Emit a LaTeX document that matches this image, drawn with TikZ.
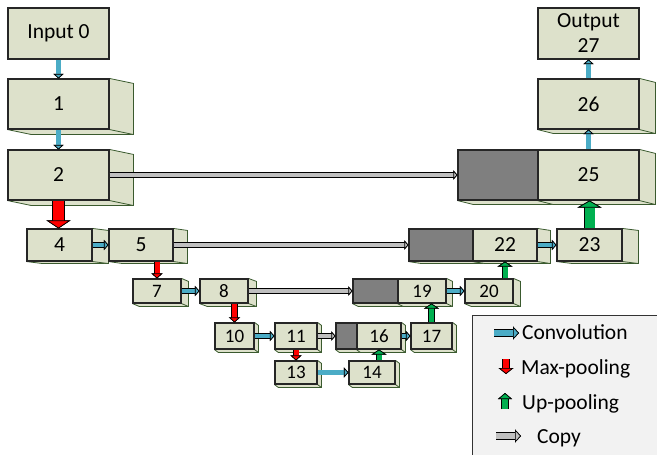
\documentclass[tikz,border=0pt]{standalone}
\usepackage{fontspec}
\setmainfont{Carlito}
\usetikzlibrary{arrows.meta,calc,backgrounds}

\definecolor{boxfill}{HTML}{DDE1CB}
\definecolor{sideline}{HTML}{3A5A2E}
\definecolor{convblue}{HTML}{4BACC6}
\definecolor{copygrey}{HTML}{BFBFBF}
\definecolor{darkpart}{HTML}{7F7F7F}
\definecolor{legendfill}{HTML}{F2F2F2}
\definecolor{upgreen}{HTML}{00B050}

\tikzset{
	box/.style={draw=black!85, fill=boxfill, inner sep=0pt, line width=1.1pt},
	bigbox/.style={box, minimum height=50, font=\fontsize{21.5}{25}\selectfont},
	midbox/.style={box, minimum height=32, font=\fontsize{21.5}{25}\selectfont},
	smallbox/.style={box, minimum height=24, font=\fontsize{19}{21}\selectfont},
	side/.style={fill=boxfill, draw=sideline, line width=0.8pt, line join=round},
	blockarrow/.style n args={4}{draw=#1, line width=#2,
		preaction={draw=black, line width=#2+1.4pt},
		-{Triangle[width=#3, length=#4, line width=0.7pt, color=black, fill=#1]}},
	convarrow/.style={blockarrow={convblue}{4.5pt}{10pt}{4.5pt}},
	poolarrow/.style={blockarrow={red}{5pt}{11pt}{5pt}},
	bigpoolarrow/.style={blockarrow={red}{11pt}{24pt}{8pt}},
	uparrow/.style={blockarrow={upgreen}{5pt}{15pt}{5pt}},
	biguparrow/.style={blockarrow={upgreen}{10pt}{24pt}{7pt}},
	copyarrow/.style={blockarrow={copygrey}{4pt}{9pt}{4pt}},
	legtext/.style={anchor=base west, inner sep=0pt, font=\fontsize{21.5}{25}\selectfont}
}

\begin{document}
\begin{tikzpicture}[x=1pt, y=-1pt]
	\clip (0,0) rectangle (657,455);

	% encoder and decoder blocks
	\node (B0) at (58.5, 33.5)	[bigbox, minimum width=101, minimum height=51]	{Input 0};
	\node (B1) at (58.5, 104)	[bigbox, minimum width=101]	{1};
	\node (B2) at (58.5, 175)	[bigbox, minimum width=101]	{2};
	\node (G25) at (498, 175)	[bigbox, fill=darkpart, minimum width=80]	{};
	\node (B25) at (588.5, 175)	[bigbox, minimum width=101]	{25};
	\node (B26) at (588.5, 104)	[bigbox, minimum width=101]	{26};
	\node (B27) at (588.5, 33.5)	[bigbox, minimum width=101, minimum height=51, align=center]	{Output\\27};

	\node (B4) at (59.5, 245)	[midbox, minimum width=65]	{4};
	\node (B5) at (141, 245)	[midbox, minimum width=64]	{5};
	\node (G22) at (441, 245)	[midbox, fill=darkpart, minimum width=64]	{};
	\node (B22) at (505, 245)	[midbox, minimum width=64]	{22};
	\node (B23) at (589.5, 245)	[midbox, minimum width=65]	{23};

	\node (B7) at (157, 291)	[smallbox, minimum width=48]	{7};
	\node (B8) at (224, 291)	[smallbox, minimum width=48]	{8};
	\node (G19) at (375.5, 291)	[smallbox, fill=darkpart, minimum width=45]	{};
	\node (B19) at (422, 291)	[smallbox, minimum width=48]	{19};
	\node (B20) at (489, 291)	[smallbox, minimum width=48]	{20};

	\node (B10) at (234.5, 336)	[smallbox, minimum width=39, minimum height=26]	{10};
	\node (B11) at (296, 336)	[smallbox, minimum width=42, minimum height=26]	{11};
	\node (G16) at (346.5, 336)	[smallbox, fill=darkpart, minimum width=21, minimum height=26]	{};
	\node (B16) at (379, 336)	[smallbox, minimum width=44, minimum height=26]	{16};
	\node (B17) at (431.5, 336)	[smallbox, minimum width=41, minimum height=26]	{17};

	\node (B13) at (296, 372.5)	[smallbox, minimum width=42, minimum height=23]	{13};
	\node (B14) at (372, 372.5)	[smallbox, minimum width=46, minimum height=23]	{14};

	% depth faces
	\begin{scope}[on background layer]
		\foreach \n/\dx/\dy in {B1/24/5, B2/24/5, G25/16/4, B25/16/4, B26/16/4,
				B4/16/2, B5/14/2, G22/13/2, B22/13/2, B23/16/2,
				B7/7/3, B8/8/3, G19/6/3, B19/6/3, B20/7/3,
				B10/4/3, B11/4/3, G16/4/3, B16/4/3, B17/4/3, B13/4/3, B14/4/3} {
			\filldraw[side] (\n.north east) -- ++(\dx,\dy) -- ($(\n.south east)+(\dx,\dy)$)
				-- ($(\n.south west)+(\dx,\dy)$) -- (\n.south west) -- (\n.south east) -- cycle;
			\draw[side] (\n.south east) -- ++(\dx,\dy);
		}
	\end{scope}

	% convolutions
	\draw[convarrow] (B0) -- (B1);
	\draw[convarrow] (B1) -- (B2);
	\draw[convarrow] (B4) -- (B5);
	\draw[convarrow] (B7) -- (B8);
	\draw[convarrow] (B10) -- (B11);
	\draw[convarrow] (B13) -- (B14);
	\draw[convarrow] (B16) -- (B17);
	\draw[convarrow] (B19) -- (B20);
	\draw[convarrow] (B22) -- (B23);
	\draw[convarrow] (B25) -- (B26);
	\draw[convarrow] (B26) -- (B27);

	% max-pooling
	\draw[bigpoolarrow] (B2.south) -- (B2.south |- B4.north);
	\draw[poolarrow] (B7.north |- B5.south) -- (B7.north);
	\draw[poolarrow] (B10.north |- B8.south) -- (B10.north);
	\draw[poolarrow] (B11) -- (B13);

	% up-pooling
	\draw[uparrow] (B16.south |- B14.north) -- (B16.south);
	\draw[uparrow] (B17.north) -- (B17.north |- B19.south);
	\draw[uparrow] (B22.south |- B20.north) -- (B22.south);
	\draw[biguparrow] (B23.north) -- (B23.north |- B25.south);

	% copies
	\draw[copyarrow] (B2) -- (G25);
	\draw[copyarrow] (B5) -- (G22);
	\draw[copyarrow] (B8) -- (G19);
	\draw[copyarrow] (B11) -- (G16);

	% legend
	\draw[draw=black!80, line width=0.8pt, fill=legendfill] (472,315) rectangle (700,500);
	\coordinate (LC1) at (494,333);
	\coordinate (LC2) at (519,333);
	\coordinate (LM1) at (506,359);
	\coordinate (LM2) at (506,374);
	\coordinate (LU1) at (505,409);
	\coordinate (LU2) at (505,393);
	\coordinate (LP1) at (496,436);
	\coordinate (LP2) at (521,436);
	\draw[blockarrow={convblue}{6pt}{13pt}{6pt}] (LC1) -- (LC2);
	\draw[blockarrow={red}{6pt}{15pt}{6pt}] (LM1) -- (LM2);
	\draw[blockarrow={upgreen}{6pt}{14pt}{6pt}] (LU1) -- (LU2);
	\draw[blockarrow={copygrey}{6pt}{13pt}{6pt}] (LP1) -- (LP2);
	\node (TC) at (522,339)	[legtext]	{Convolution};
	\node (TM) at (521,374)	[legtext]	{Max-pooling};
	\node (TU) at (522,409)	[legtext]	{Up-pooling};
	\node (TP) at (537,443)	[legtext]	{Copy};
\end{tikzpicture}
\end{document}
